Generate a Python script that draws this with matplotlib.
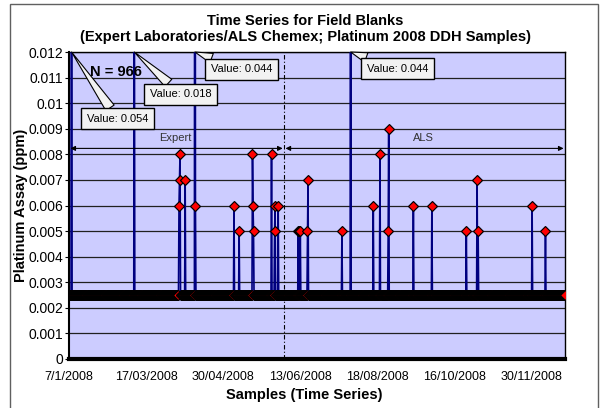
import numpy as np
import matplotlib
matplotlib.use("Agg")
import matplotlib.pyplot as plt
from matplotlib.patches import Rectangle

plt.rcParams['font.family'] = ['Liberation Sans', 'DejaVu Sans']

# field blank assays, Pt ppm; everything not listed sits at half detection limit
n_samples = 966
baseline = 0.0025
spike_idx = [5, 127, 214, 215, 216, 226, 245, 246, 321, 331, 357, 358, 359,
             394, 400, 401, 407, 446, 448, 450, 464, 465, 531, 548, 592, 605,
             621, 622, 670, 706, 773, 794, 796, 901, 927]
spike_val = [0.054, 0.018, 0.006, 0.007, 0.008, 0.007, 0.044, 0.006, 0.006,
             0.005, 0.008, 0.006, 0.005, 0.008, 0.005, 0.006, 0.006, 0.005,
             0.005, 0.005, 0.005, 0.007, 0.005, 0.044, 0.006, 0.008, 0.005,
             0.009, 0.006, 0.006, 0.005, 0.007, 0.005, 0.006, 0.005]
lab_switch = 418.5   # Expert -> ALS changeover
lab_names = ["Expert", "ALS"]

tick_idx = [0, 150, 300, 450, 600, 750, 900]
tick_dates = ["7/1/2008", "17/03/2008", "30/04/2008", "13/06/2008",
              "18/08/2008", "16/10/2008", "30/11/2008"]
y_max = 0.012

vals = np.full(n_samples, baseline)
vals[spike_idx] = spike_val
x = np.arange(n_samples)

fig = plt.figure(figsize=(6.03, 4.08), dpi=100)
ax = fig.add_axes([69/603, 1-359/408, 496/603, 307/408])
ax.set_facecolor('#CCCCFF')

ax.plot(x, vals, color='#000080', lw=1.2, marker='D', ms=4.6,
        mfc='#FF0000', mec='black', mew=0.85, zorder=3)

ax.set_xlim(0, n_samples-1)
ax.set_ylim(0, y_max)
yt = np.arange(0, y_max + 0.0005, 0.001)
ax.set_yticks(yt)
ax.set_yticklabels([f'{v:g}' for v in yt], fontsize=10)
ax.set_xticks(tick_idx)
ax.set_xticklabels(tick_dates, fontsize=9)
ax.tick_params(axis='y', length=3, pad=1)
ax.tick_params(axis='x', length=0, pad=9)
ax.grid(axis='y', color='#202020', lw=0.9)
ax.set_axisbelow(True)
for s in ['top', 'right']:
    ax.spines[s].set_linewidth(1)
ax.spines['left'].set_linewidth(1.5)
ax.spines['bottom'].set_linewidth(3)

# lab changeover
ax.axvline(lab_switch, color='black', lw=0.8, ls=(0, (4, 2, 1, 2)), zorder=2)
ay = 0.686
ax.annotate('', xy=(0, ay), xytext=(lab_switch, ay),
            xycoords=('data', 'axes fraction'),
            arrowprops=dict(arrowstyle='<|-|>', color='black', lw=0.8,
                            shrinkA=1, shrinkB=1, mutation_scale=7))
ax.annotate('', xy=(lab_switch, ay), xytext=(n_samples-1, ay),
            xycoords=('data', 'axes fraction'),
            arrowprops=dict(arrowstyle='<|-|>', color='black', lw=0.8,
                            shrinkA=1, shrinkB=1, mutation_scale=7))
ax.text(207, 0.72, lab_names[0], transform=ax.get_xaxis_transform(),
        ha='center', va='center', fontsize=8, color='#333333')
ax.text(689, 0.72, lab_names[1], transform=ax.get_xaxis_transform(),
        ha='center', va='center', fontsize=8, color='#333333')

# callouts for off-scale values
box_pos = [(0.098, 0.782), (0.225, 0.863), (0.348, 0.944), (0.662, 0.946)]
tall = [(i, v) for i, v in zip(spike_idx, spike_val) if v > y_max]
for (i, v), pos in zip(tall, box_pos):
    ax.annotate(f'Value: {v:g}', xy=(i, y_max), xytext=pos,
                textcoords='axes fraction', fontsize=8, ha='center',
                va='center', annotation_clip=False, zorder=6,
                bbox=dict(boxstyle='square,pad=0.5', fc='#F2F2F2',
                          ec='black', lw=1),
                arrowprops=dict(arrowstyle='wedge,tail_width=0.9,shrink_factor=0.5',
                                fc='#F2F2F2', ec='black', lw=0.8,
                                shrinkA=0, shrinkB=0))

ax.text(0.042, 0.936, f'N = {n_samples}', transform=ax.transAxes,
        fontsize=10.5, fontweight='bold', va='center', zorder=6)

fig.text(305/603, 1-21/408, 'Time Series for Field Blanks', ha='center',
         va='center', fontsize=10.5, fontweight='bold')
fig.text(305/603, 1-37/408,
         '(Expert Laboratories/ALS Chemex; Platinum 2008 DDH Samples)',
         ha='center', va='center', fontsize=10.5, fontweight='bold')
fig.text(304/603, 1-395/408, 'Samples (Time Series)', ha='center',
         va='center', fontsize=10.5, fontweight='bold')
fig.text(21/603, 1-205/408, 'Platinum Assay (ppm)', ha='center',
         va='center', rotation=90, fontsize=10.5, fontweight='bold')

fig.patches.append(Rectangle((10/603, -0.02), 588/603, 1.02-4/408,
                             transform=fig.transFigure, fill=False,
                             ec='#606060', lw=1))

fig.savefig('out.png', dpi=100)
